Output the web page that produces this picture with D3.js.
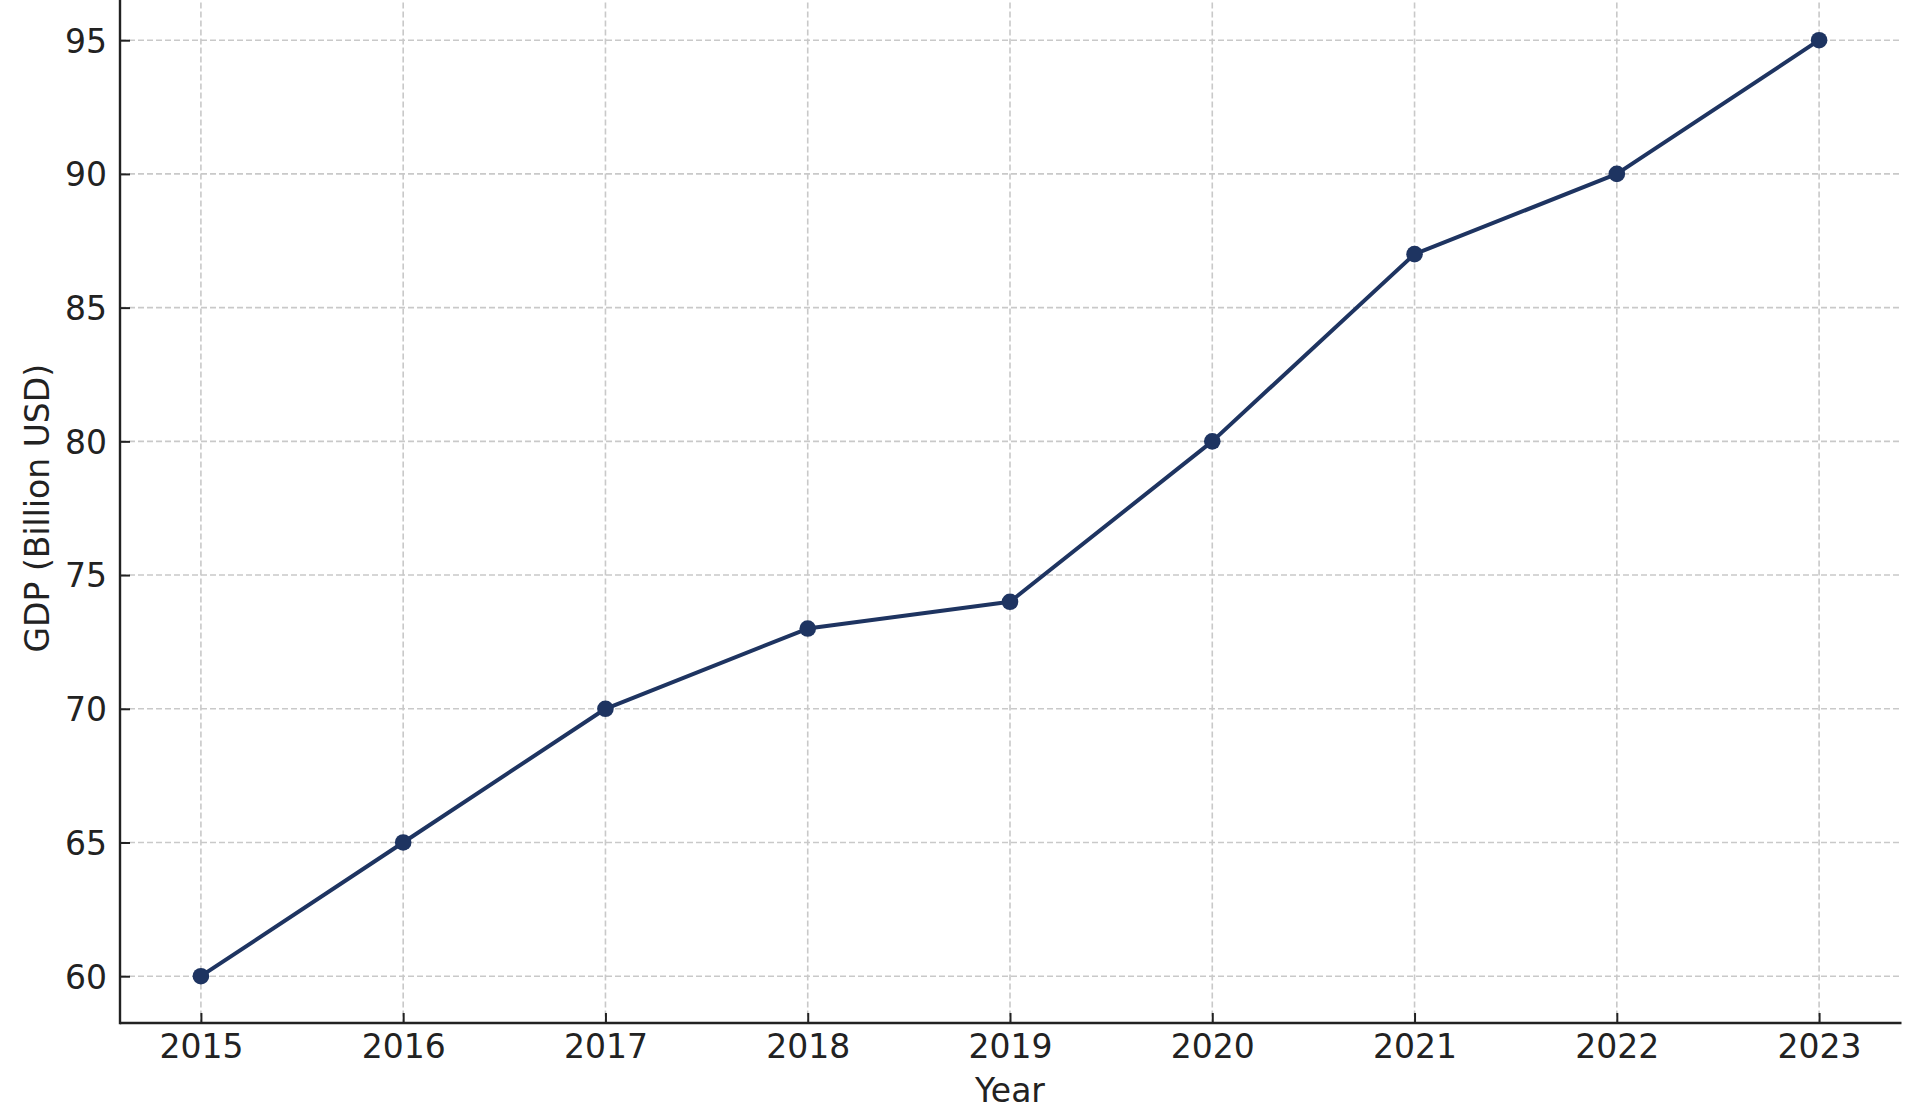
<!DOCTYPE html>
<html>
<head>
<meta charset="utf-8">
<script src="https://cdn.jsdelivr.net/npm/d3@7"></script>
<style>
  html, body { margin: 0; padding: 0; background: #fff; }
  svg { display: block; }
  text { font-family: "DejaVu Sans", sans-serif; fill: #222; }
</style>
</head>
<body>
<svg id="chart" width="1929" height="1109"></svg>
<script>
const years = [2015, 2016, 2017, 2018, 2019, 2020, 2021, 2022, 2023];
const gdp = [60, 65, 70, 73, 74, 80, 87, 90, 95];
const yTicks = [60, 65, 70, 75, 80, 85, 90, 95];
const xLabel = "Year";
const yLabel = "GDP (Billion USD)";

const svg = d3.select("#chart");
const pLeft = 120, pRight = 1900, pTop = -6.6, pBottom = 1023;

const x = d3.scaleLinear().domain([2014.6, 2023.4]).range([pLeft, pRight]);
const y = d3.scaleLinear().domain([58.25, 96.75]).range([pBottom, pTop]);

const lineColor = "#1e3461";
const axisColor = "#222";
const gridColor = "#c9c9c9";

// grid
const grid = svg.append("g");
grid.selectAll("line.h").data(yTicks).enter().append("line")
  .attr("x1", pLeft).attr("x2", pRight)
  .attr("y1", d => y(d)).attr("y2", d => y(d))
  .attr("stroke", gridColor).attr("stroke-width", 1.6)
  .attr("stroke-dasharray", "6,3");
grid.selectAll("line.v").data(years).enter().append("line")
  .attr("x1", d => x(d)).attr("x2", d => x(d))
  .attr("y1", pTop).attr("y2", pBottom)
  .attr("stroke", gridColor).attr("stroke-width", 1.6)
  .attr("stroke-dasharray", "6,3");

// axes via d3
const xAxis = d3.axisBottom(x).tickValues(years).tickFormat(d3.format("d"))
  .tickSizeInner(-10).tickSizeOuter(0).tickPadding(12);
const yAxis = d3.axisLeft(y).tickValues(yTicks).tickFormat(d3.format("d"))
  .tickSizeInner(-10).tickSizeOuter(0).tickPadding(13);

const gx = svg.append("g").attr("transform", `translate(0,${pBottom})`).call(xAxis);
const gy = svg.append("g").attr("transform", `translate(${pLeft},0)`).call(yAxis);

[gx, gy].forEach(g => {
  g.select(".domain").attr("stroke", axisColor).attr("stroke-width", 2.4);
  g.selectAll(".tick line").attr("stroke", axisColor).attr("stroke-width", 2);
  g.selectAll(".tick text").attr("fill", "#222")
    .style("font-family", '"DejaVu Sans", sans-serif').style("font-size", "33px");
});
gx.select(".domain").attr("d", `M${pLeft},0H${pRight + 1.5}`);
gy.select(".domain").attr("d", `M0,${pTop}V${pBottom + 1.2}`);
gx.selectAll(".tick text").attr("dy", null).attr("y", 0)
  .attr("transform", "translate(0,34.5)");
gy.selectAll(".tick text").attr("dy", "0.36em");

// line
const line = d3.line().x((d, i) => x(years[i])).y(d => y(d));
svg.append("path").datum(gdp)
  .attr("d", line)
  .attr("fill", "none")
  .attr("stroke", lineColor)
  .attr("stroke-width", 4)
  .attr("stroke-linejoin", "round");

svg.selectAll("circle.pt").data(gdp).enter().append("circle")
  .attr("cx", (d, i) => x(years[i]))
  .attr("cy", d => y(d))
  .attr("r", 8.3)
  .attr("fill", lineColor);

// labels
svg.append("text")
  .attr("x", (pLeft + pRight) / 2).attr("y", 1102)
  .attr("text-anchor", "middle")
  .style("font-size", "33px")
  .text(xLabel);

svg.append("text")
  .attr("transform", `translate(49,${(pTop + pBottom) / 2}) rotate(-90)`)
  .attr("text-anchor", "middle")
  .style("font-size", "33px")
  .text(yLabel);
</script>
</body>
</html>
